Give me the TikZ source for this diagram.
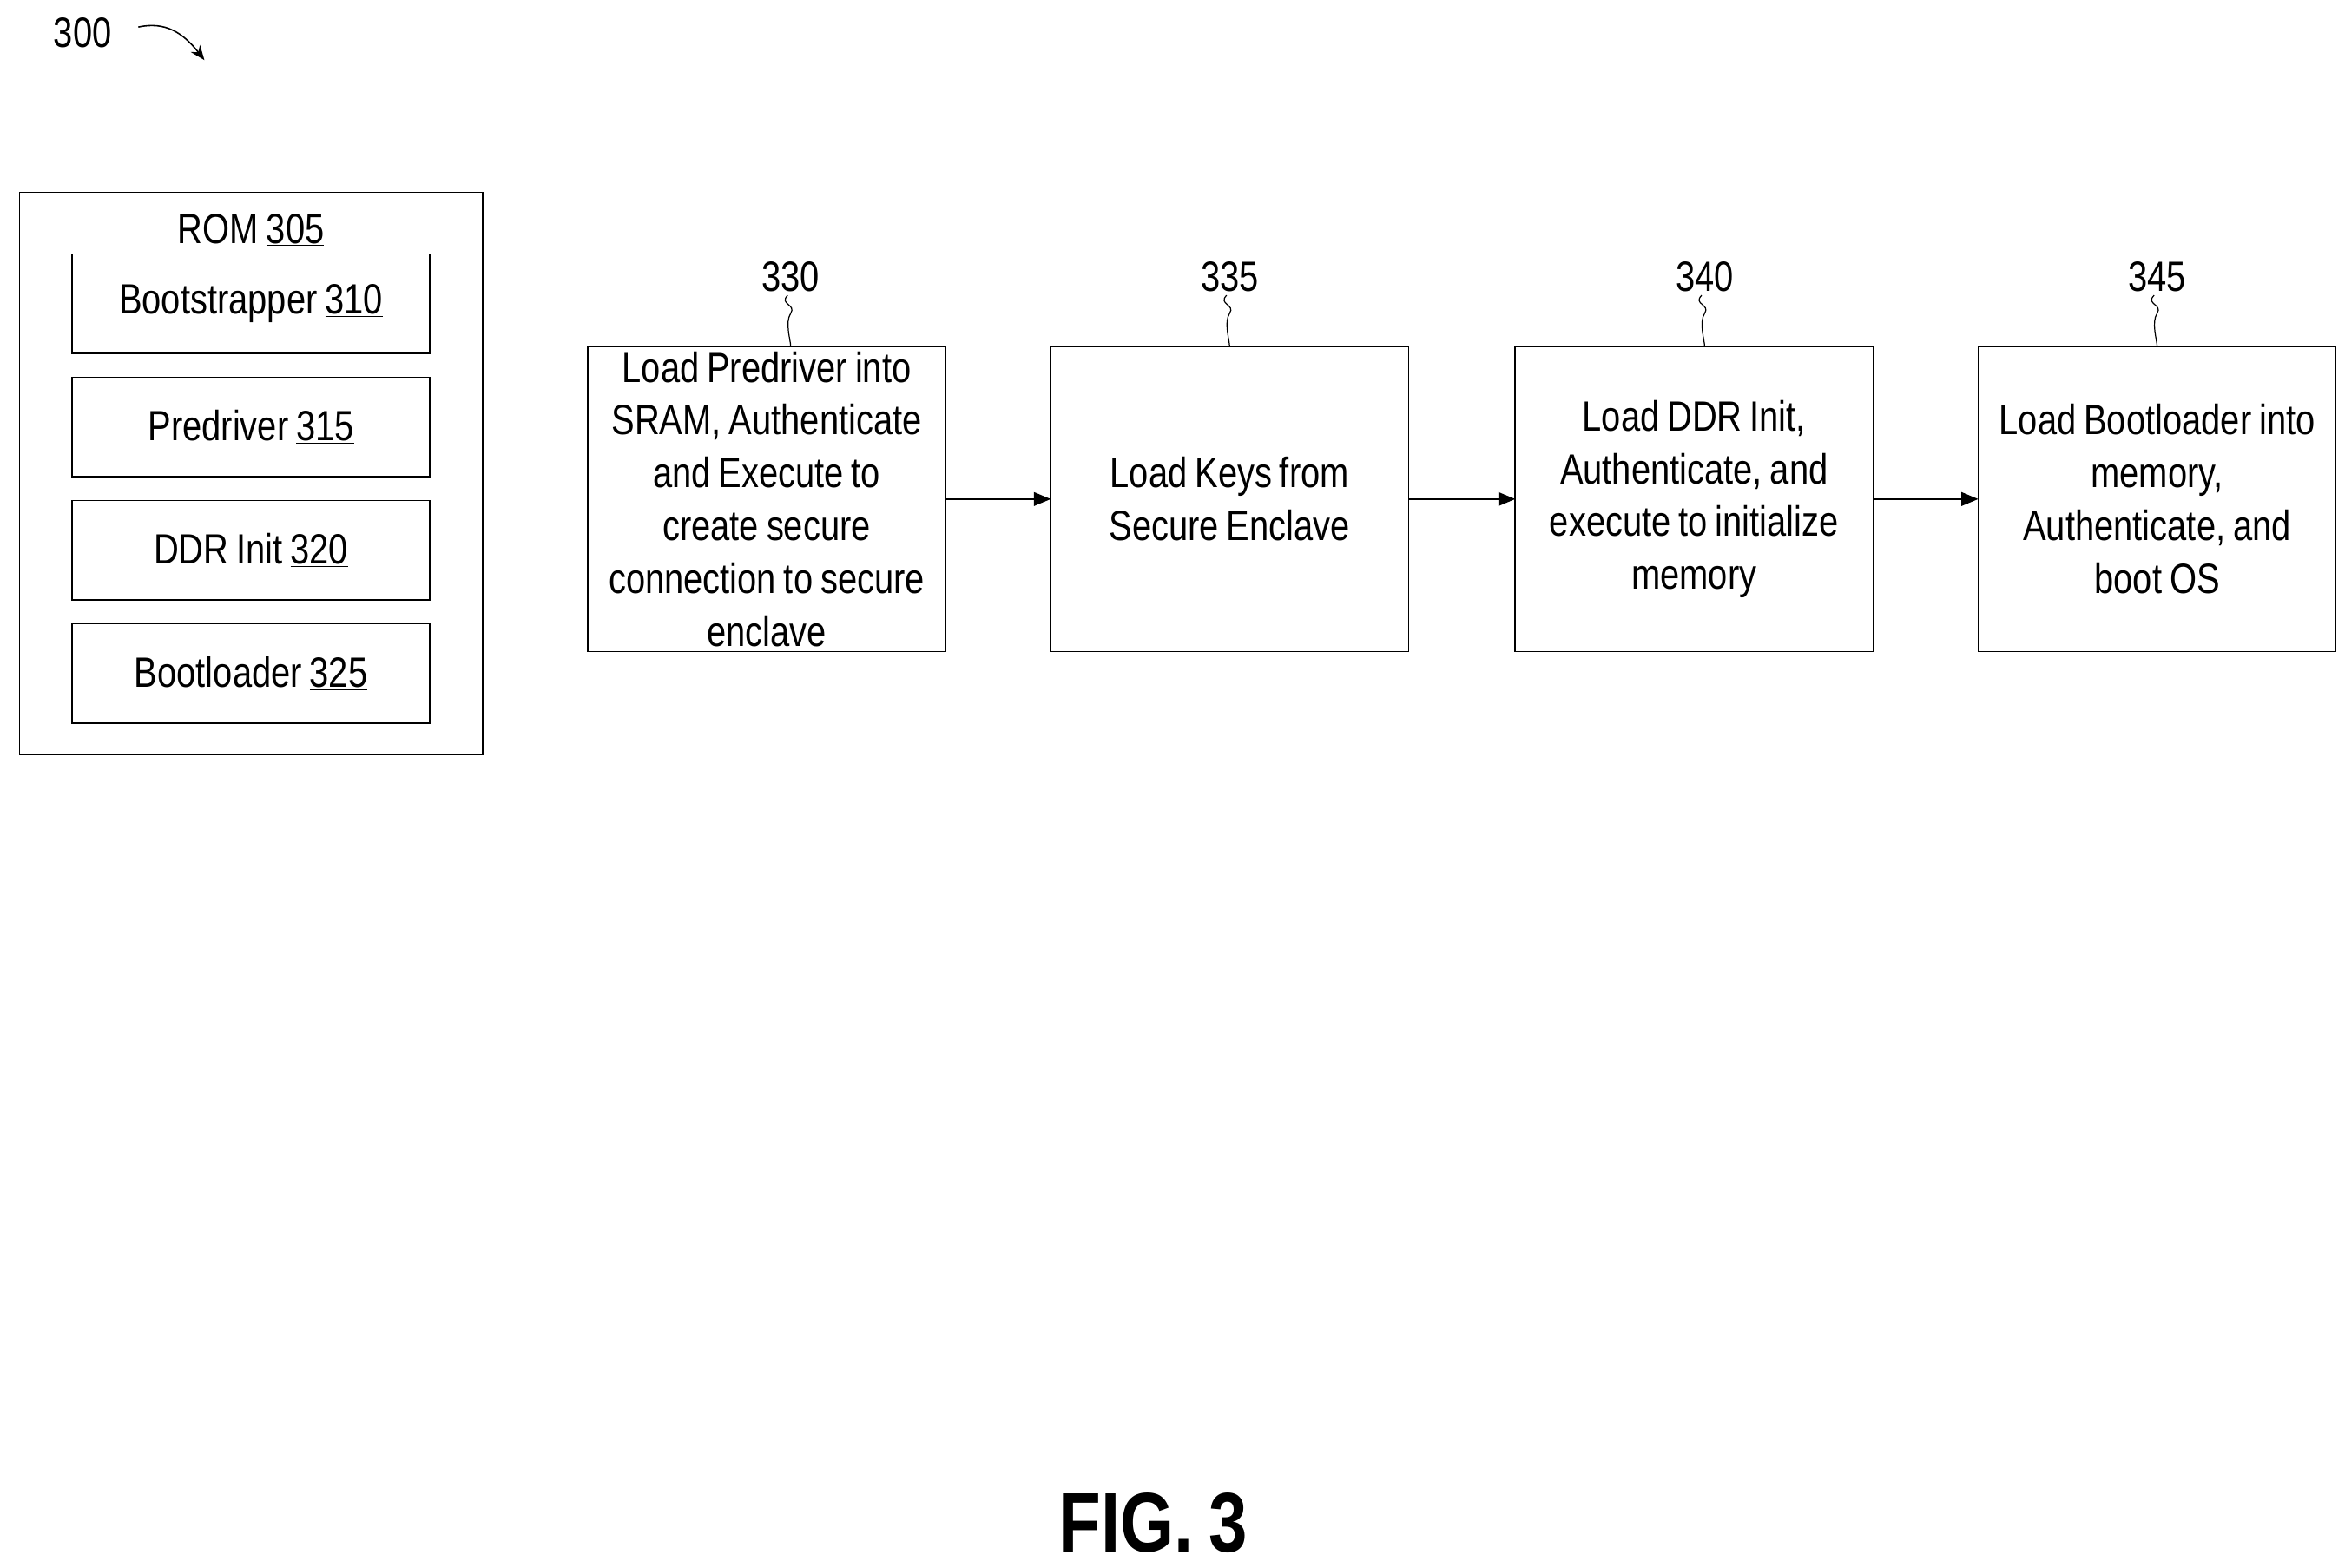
\documentclass[tikz,border=0pt]{standalone}
\usepackage{fontspec}
\setmainfont{Liberation Sans}[FakeStretch=0.82,WordSpace=0.8]
\usetikzlibrary{arrows.meta}
\begin{document}
\begin{tikzpicture}[x=0.05cm,y=-0.05cm,
  every node/.style={font=\fontsize{40}{50}\selectfont},
  box/.style={draw,line width=1.3pt,inner sep=0pt,outer sep=0pt},
  arr/.style={line width=1.3pt,-{Triangle[length=16pt,width=13pt]}},
  sq/.style={line width=1pt}]
\useasboundingbox (0,0) rectangle (1560,1043);
\node (n300) at (55,22) {300};
\coordinate (a0) at (92,18);
\coordinate (a1) at (136,40);
\draw[line width=1.3pt,-{Stealth[length=14pt,width=11pt]}] (a0) .. controls (110,14) and (122,22) .. (a1);
% ROM
\node[box,minimum width=308*0.05cm,minimum height=374*0.05cm] (rom) at (167,315) {};
\node (romt) at (167,153) {ROM \underline{305}};
\foreach \n/\t/\y in {b/Bootstrapper \underline{310}/202, p/Predriver \underline{315}/284, d/DDR Init \underline{320}/366, l/Bootloader \underline{325}/448}
  \node[box,minimum width=238*0.05cm,minimum height=66*0.05cm] (\n) at (167,\y) {\t};
% flow boxes
\tikzset{fb/.style={box,minimum width=238*0.05cm,minimum height=203*0.05cm,align=center}}
\node[fb] (s330) at (510,332) {Load Predriver into\\SRAM, Authenticate\\and Execute to\\create secure\\connection to secure\\enclave};
\node[fb] (s335) at (818,332) {Load Keys from\\Secure Enclave};
\node[fb] (s340) at (1127,332) {Load DDR Init,\\Authenticate, and\\execute to initialize\\memory};
\node[fb] (s345) at (1435,332) {Load Bootloader into\\memory,\\Authenticate, and\\boot OS};
\draw[arr] (s330) -- (s335);
\draw[arr] (s335) -- (s340);
\draw[arr] (s340) -- (s345);
\foreach \s/\t/\x in {s330/330/526, s335/335/818, s340/340/1134, s345/345/1435}{
  \node (l\t) at (\x,184) {\t};
  \draw[sq] (l\t.south) ++(-2,0) .. controls +(-6,6) and +(4,-6) .. ++(2,12) .. controls +(-4,6) and +(0,-4) .. (\s.north -| l\t.south);
}
\node[font=\fontsize{80}{84}\selectfont\bfseries] (fig) at (767,1013) {FIG. 3};
\end{tikzpicture}
\end{document}
